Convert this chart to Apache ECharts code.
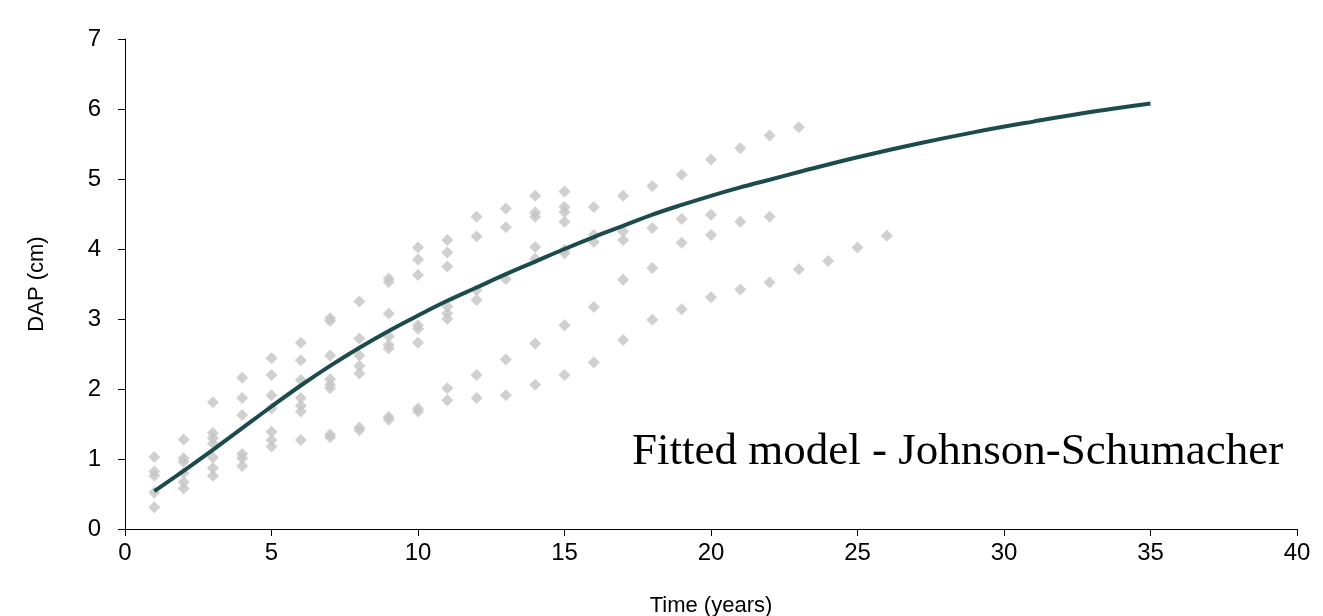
<!DOCTYPE html>
<html>
<head>
<meta charset="utf-8">
<title>Fitted model - Johnson-Schumacher</title>
<script src="https://cdn.jsdelivr.net/npm/echarts@6/dist/echarts.min.js"></script>
<style>
  html, body { margin: 0; padding: 0; background: #fff; }
  #chart { width: 1323px; height: 616px; }
</style>
</head>
<body>
<div id="chart"></div>
<script>
// observed DAP per age (years)
const obsAges = [1, 2, 3, 4, 5, 6, 7, 8, 9, 10, 11, 12, 13, 14, 15, 16, 17, 18, 19, 20, 21, 22, 23, 24, 25, 26];
const obsDap = [
  [1.03, 0.82, 0.76, 0.52, 0.31],
  [1.28, 1.01, 0.96, 0.80, 0.67, 0.58],
  [1.81, 1.37, 1.30, 1.22, 1.02, 0.87, 0.76],
  [2.16, 1.87, 1.63, 1.07, 1.01, 0.90],
  [2.44, 2.20, 1.91, 1.72, 1.39, 1.27, 1.18],
  [2.66, 2.41, 2.13, 1.87, 1.76, 1.68, 1.27],
  [3.01, 2.97, 2.48, 2.14, 2.06, 2.01, 1.35, 1.31],
  [3.25, 2.72, 2.48, 2.33, 2.22, 1.45, 1.41],
  [3.58, 3.53, 3.08, 2.75, 2.63, 2.58, 1.60, 1.56],
  [4.02, 3.85, 3.63, 2.91, 2.86, 2.66, 1.72, 1.68],
  [4.13, 3.95, 3.75, 3.18, 3.08, 3.00, 2.01, 1.84],
  [4.46, 4.18, 3.41, 3.27, 2.20, 1.87],
  [4.58, 4.31, 3.57, 2.42, 1.91],
  [4.76, 4.52, 4.46, 4.03, 3.86, 2.65, 2.06],
  [4.82, 4.60, 4.53, 4.39, 3.99, 3.94, 2.91, 2.20],
  [4.60, 4.20, 4.10, 3.17, 2.38],
  [4.76, 4.25, 4.13, 3.56, 2.70],
  [4.90, 4.30, 3.73, 2.99],
  [5.06, 4.43, 4.09, 3.14],
  [5.28, 4.49, 4.20, 3.31],
  [5.44, 4.39, 3.42],
  [5.62, 4.46, 3.52],
  [5.74, 3.71],
  [3.83],
  [4.02],
  [4.19]
];

// fitted curve
const fitAges = [1, 2, 3, 4, 5, 6, 7, 8, 9, 10, 11, 12, 13, 14, 15, 16, 17, 18, 19, 20, 21, 22, 23, 25, 27, 29, 31, 33, 35];
const fitDap = [0.54, 0.83, 1.13, 1.44, 1.75, 2.05, 2.33, 2.59, 2.83, 3.05, 3.26, 3.45, 3.64, 3.82, 4.00, 4.17, 4.33, 4.49, 4.63, 4.76, 4.88, 4.99, 5.10, 5.31, 5.50, 5.67, 5.82, 5.96, 6.08];

const xTicks = [0, 5, 10, 15, 20, 25, 30, 35, 40];
const yTicks = [0, 1, 2, 3, 4, 5, 6, 7];

const scatterData = [];
obsAges.forEach((t, i) => {
  obsDap[i].forEach(v => scatterData.push([t, v]));
});
const lineData = fitAges.map((t, i) => [t, fitDap[i]]);

const chart = echarts.init(document.getElementById('chart'));
const fontFamily = 'Liberation Sans, Arial, sans-serif';

chart.setOption({
  animation: false,
  backgroundColor: '#fff',
  grid: { left: 125, right: 26, top: 39, bottom: 87, outerBoundsMode: 'none' },
  xAxis: {
    type: 'value',
    min: xTicks[0],
    max: xTicks[xTicks.length - 1],
    interval: 5,
    name: 'Time (years)',
    nameLocation: 'middle',
    nameGap: 66,
    nameTextStyle: { fontFamily: fontFamily, fontSize: 22, color: '#000' },
    axisLine: { onZero: false, lineStyle: { color: '#000', width: 1 } },
    axisTick: { show: true, length: 7, lineStyle: { color: '#000' } },
    axisLabel: { margin: 12, fontFamily: fontFamily, fontSize: 24, color: '#000' },
    splitLine: { show: false }
  },
  yAxis: {
    type: 'value',
    min: yTicks[0],
    max: yTicks[yTicks.length - 1],
    interval: 1,
    name: 'DAP (cm)',
    nameLocation: 'middle',
    nameGap: 77,
    nameTextStyle: { fontFamily: fontFamily, fontSize: 22, color: '#000' },
    axisLine: { show: true, onZero: false, lineStyle: { color: '#000', width: 1 } },
    axisTick: { show: true, length: 7, lineStyle: { color: '#000' } },
    axisLabel: { margin: 24, fontFamily: fontFamily, fontSize: 24, color: '#000' },
    splitLine: { show: false }
  },
  series: [
    {
      name: 'Observed',
      type: 'scatter',
      symbol: 'diamond',
      symbolSize: 12,
      itemStyle: { color: '#c4c4c4' },
      data: scatterData,
      z: 2
    },
    {
      name: 'Johnson-Schumacher',
      type: 'line',
      smooth: 0.4,
      showSymbol: false,
      lineStyle: { color: '#1c4b4e', width: 4 },
      data: lineData,
      z: 3
    }
  ],
  graphic: [
    {
      type: 'text',
      left: 632,
      top: 430,
      style: {
        text: 'Fitted model - Johnson-Schumacher',
        fontFamily: 'Liberation Serif, Times New Roman, serif',
        fontSize: 45,
        fill: '#000'
      }
    }
  ]
});
</script>
</body>
</html>
